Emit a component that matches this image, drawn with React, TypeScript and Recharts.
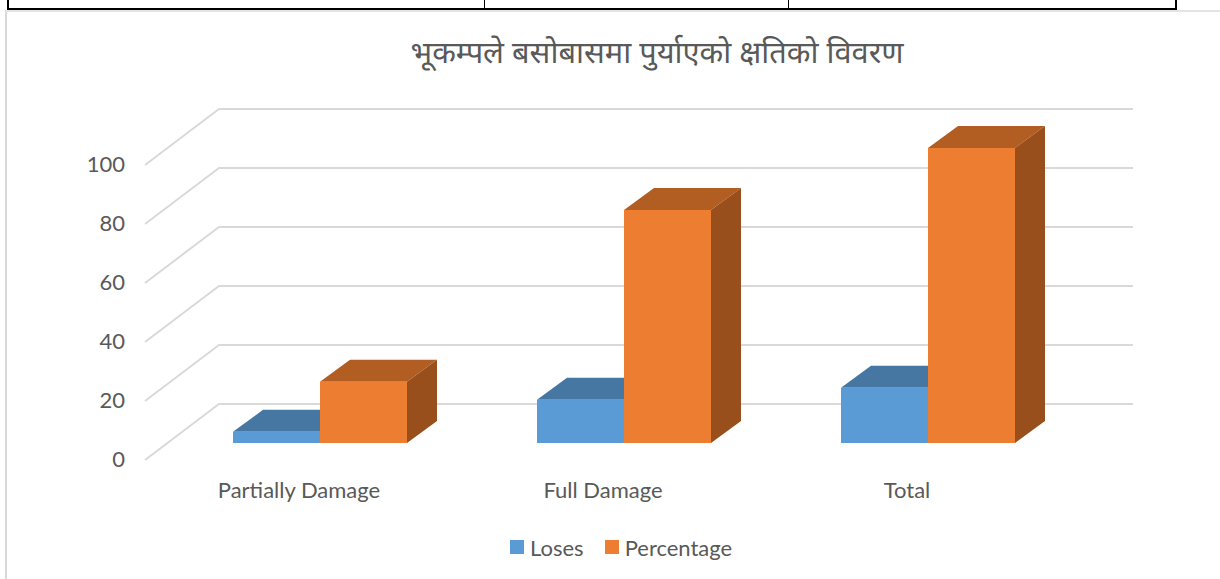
import React from 'react';
import { BarChart, Bar, XAxis, YAxis, CartesianGrid, Legend } from 'recharts';

const categories = ['Partially Damage', 'Full Damage', 'Total'];
const loses = [3.8, 14.7, 18.7];
const percentage = [20.8, 79, 100];
const yTicks = [0, 20, 40, 60, 80, 100];
const titleText = 'भूकम्पले बसोबासमा पुर्याएको क्षतिको विवरण';

const tableData = categories.map((name, i) => ({ name, Loses: loses[i], Percentage: percentage[i] }));

const FONT = 'Lato, Carlito, "Open Sans", sans-serif';
const TEXT = '#595959';
const DX = 30;
const DY = 22;

const make3D = (top: string, side: string) => (props: any) => {
  const { x, y, width, height, fill } = props;
  const b = y + height;
  const r = x + width;
  return (
    <g>
      <polygon points={`${x},${y} ${x + DX},${y - DY} ${r + DX},${y - DY} ${r},${y}`} fill={top} />
      <polygon points={`${r},${y} ${r + DX},${y - DY} ${r + DX},${b - DY} ${r},${b}`} fill={side} />
      <rect x={x} y={y} width={width} height={height} fill={fill} />
    </g>
  );
};

const BlueShape = make3D('#4677A3', '#3A6A96');
const OrangeShape = make3D('#B25D21', '#984F1B');

const WallLine = (props: any) => {
  const { y1 } = props;
  const fx = 145;
  const bx = 219;
  const rx = 1133;
  return (
    <polyline
      points={`${fx},${y1 + 17} ${bx},${y1 - 39} ${rx},${y1 - 39}`}
      fill="none"
      stroke="#d9d9d9"
      strokeWidth={2}
    />
  );
};

const LegendContent = (props: any) => (
  <div style={{ display: 'flex', alignItems: 'center', height: 28, fontFamily: FONT, fontSize: 22, color: TEXT }}>
    {(props.payload || []).map((p: any) => (
      <div key={p.value} style={{ display: 'flex', alignItems: 'center', marginRight: 21 }}>
        <span style={{ display: 'inline-block', width: 14, height: 14, background: p.color, marginRight: 6 }} />
        <span>{p.value}</span>
      </div>
    ))}
  </div>
);

export default function App() {
  const bar = (l: number, t: number, w: number, h: number, c: string) => (
    <div style={{ position: 'absolute', left: l, top: t, width: w, height: h, background: c }} />
  );
  return (
    <div style={{ position: 'fixed', left: 0, top: 0, width: 1220, height: 579, background: '#fff', overflow: 'hidden' }}>
      {bar(5, 10, 2, 569, '#d9d9d9')}
      {bar(5, 10, 1215, 2, '#e4e4e4')}
      {bar(7, 8, 1170, 2, '#000')}
      {bar(7, 0, 2, 10, '#000')}
      {bar(484, 0, 1, 9, '#000')}
      {bar(788, 0, 1, 9, '#000')}
      {bar(1175, 0, 2, 10, '#000')}
      <div
        style={{
          position: 'absolute',
          left: 0,
          width: 1314,
          top: 31,
          textAlign: 'center',
          fontFamily: '"Noto Sans", "Noto Sans Devanagari", "Lohit Devanagari", "FreeSans", sans-serif',
          fontSize: 30.8,
          lineHeight: '40px',
          color: TEXT,
        }}
      >
        {titleText}
      </div>
      <BarChart
        width={1220}
        height={579}
        data={tableData}
        margin={{ top: 148, right: 140, bottom: 68, left: 108 }}
        barCategoryGap={65}
        barGap={0}
        style={{ position: 'absolute', left: 0, top: 0 }}
      >
        <CartesianGrid horizontal={<WallLine />} vertical={false} />
        <XAxis
          dataKey="name"
          height={40}
          axisLine={false}
          tickLine={false}
          tickMargin={33}
          tick={{ fill: TEXT, fontFamily: FONT, fontSize: 22, dx: -21 }}
        />
        <YAxis
          width={60}
          domain={[0, 100]}
          ticks={yTicks}
          axisLine={false}
          tickLine={false}
          tickMargin={37}
          tick={{ fill: TEXT, fontFamily: FONT, fontSize: 22, dy: 16 }}
        />
        <Legend
          content={<LegendContent />}
          wrapperStyle={{ position: 'absolute', left: 510, top: 533, width: 300, bottom: 'auto' }}
        />
        <Bar dataKey="Loses" fill="#5B9BD5" shape={<BlueShape />} isAnimationActive={false} />
        <Bar dataKey="Percentage" fill="#ED7D31" shape={<OrangeShape />} isAnimationActive={false} />
      </BarChart>
    </div>
  );
}
